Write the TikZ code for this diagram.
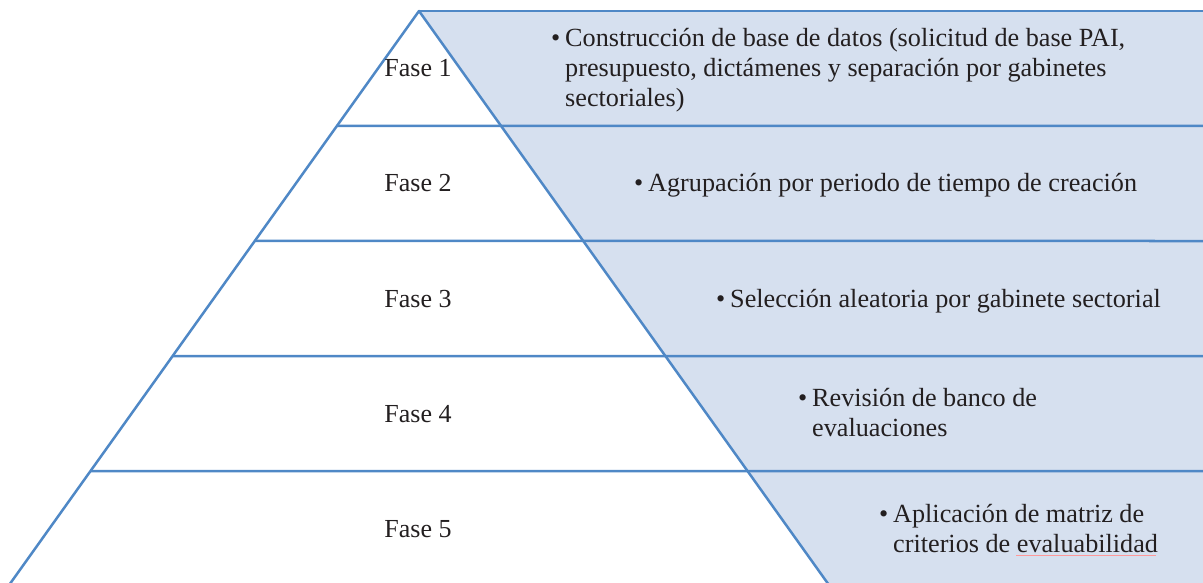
\documentclass[tikz,border=0pt]{standalone}
\usepackage{fontspec}
\setmainfont{Liberation Serif}
\usetikzlibrary{calc}
\definecolor{pyrline}{HTML}{4F88C6}
\definecolor{pyrfill}{HTML}{D6E0EF}
\definecolor{txt}{HTML}{231F20}
\newcommand{\bul}{\makebox[14pt][l]{\textbullet}}
\begin{document}
\begin{tikzpicture}[x=1pt,y=-1pt,
  edge/.style={draw=pyrline, line width=2.5pt, line join=round},
  phase/.style={anchor=base, inner sep=0pt, text=txt, font=\fontsize{26}{30}\selectfont},
  item/.style={anchor=base west, inner sep=0pt, text=txt, font=\fontsize{26.2}{30}\selectfont},
  spell/.style={draw=red!40, line width=0.8pt}]
\useasboundingbox (0,0) rectangle (1203,583);
\clip (0,0) rectangle (1203,583);
\coordinate (apex) at (419,11);
\coordinate (bl) at (8.4,586);
\coordinate (br) at (829.6,586);
\coordinate (brx) at (832.5,590);
% shaded right region
\fill[pyrfill] (apex) -- (1210,11) -- (1210,590) -- (brx) -- cycle;
% horizontal band lines
\draw[edge] (apex) -- (1210,11);
\foreach \k/\yy in {0.2/126,0.4/241,0.6/356,0.8/471,1/586}{
  \draw[edge] ($(apex)!\k!(bl)$) -- (1210,\yy);
}
% pyramid sides
\draw[edge] (bl) -- (apex) -- (brx);
% phase labels
\node[phase] (f1) at (418,77) {Fase 1};
\node[phase] (f2) at (418,192) {Fase 2};
\node[phase] (f3) at (418,307) {Fase 3};
\node[phase] (f4) at (418,422) {Fase 4};
\node[phase] (f5) at (418,537) {Fase 5};
% bullet texts
\node[item] (t1) at (551,47) {\begin{tabular}[t]{@{}l@{}l@{}}\bul & Construcción de base de datos (solicitud de base PAI,\\ & presupuesto, dictámenes y separación por gabinetes\\ & sectoriales)\end{tabular}};
\node[item] (t2) at (634,192) {\begin{tabular}[t]{@{}l@{}l@{}}\bul & Agrupación por periodo de tiempo de creación\end{tabular}};
\node[item] (t3) at (716,307) {\begin{tabular}[t]{@{}l@{}l@{}}\bul & Selección aleatoria por gabinete sectorial\end{tabular}};
\node[item] (t4) at (798,406.5) {\begin{tabular}[t]{@{}l@{}l@{}}\bul & Revisión de banco de\\ & evaluaciones\end{tabular}};
\node[item] (t5) at (879,522) {\begin{tabular}[t]{@{}l@{}l@{}}\bul & Aplicación de matriz de\\ & criterios de evaluabilidad\end{tabular}};
\draw[spell] (1016,555) -- (1156,555);
\end{tikzpicture}
\end{document}
